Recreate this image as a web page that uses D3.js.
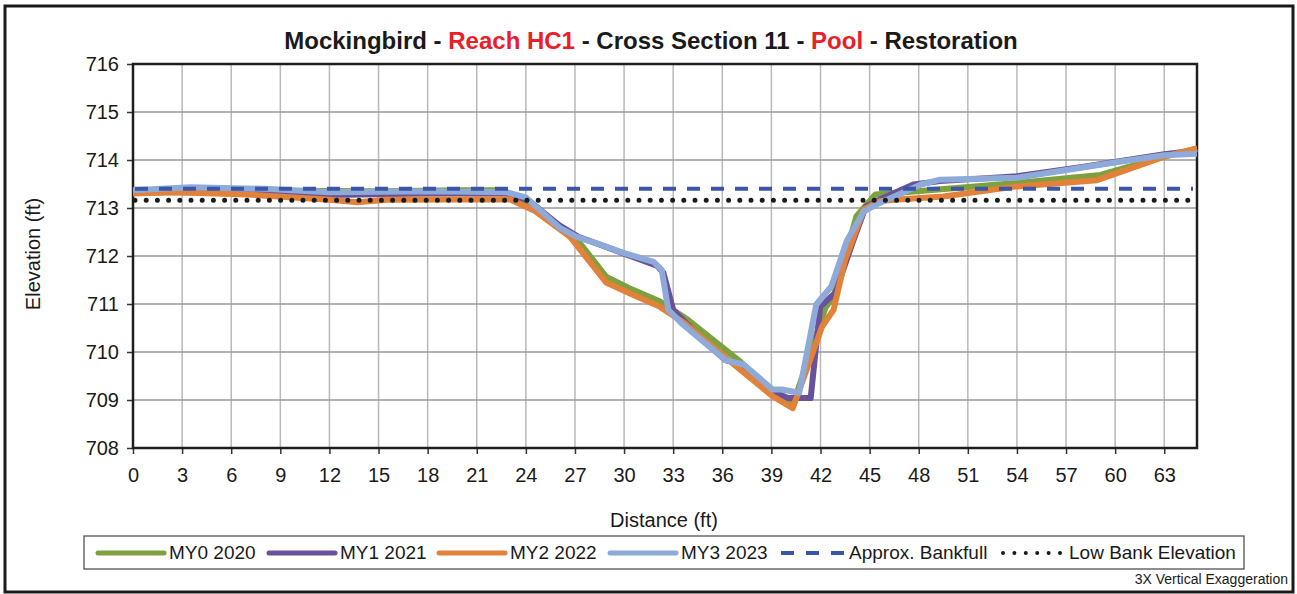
<!DOCTYPE html>
<html>
<head>
<meta charset="utf-8">
<script src="https://cdn.jsdelivr.net/npm/d3@7"></script>
<style>
  body { margin: 0; background: #ffffff; }
  text { font-family: "Liberation Sans", Arial, sans-serif; fill: #1a1a1a; }
</style>
</head>
<body>
<script>
// survey stations (ft) and elevations (ft) per monitoring year
const my0_sta = [0, 3, 9, 15, 20, 22.6, 24.2, 27.0, 28.9, 30.5, 32.2, 33.9, 37.1, 39.1, 40.35, 42.3, 42.8, 44.2, 45.35, 47.9, 54, 59.1, 63, 65];
const my0_elev = [713.36, 713.38, 713.36, 713.35, 713.37, 713.37, 713.08, 712.40, 711.57, 711.30, 711.05, 710.67, 709.80, 709.15, 708.94, 710.92, 711.16, 712.83, 713.28, 713.35, 713.52, 713.69, 714.07, 714.24];

const my1_sta = [0, 6, 12, 18, 22.8, 24.2, 26, 27.2, 30, 32.0, 32.4, 33.0, 34.5, 36.2, 37.3, 39.07, 40.0, 41.4, 41.98, 42.9, 43.95, 44.77, 45.58, 47.67, 49.3, 54, 58.1, 63, 65];
const my1_elev = [713.33, 713.33, 713.27, 713.30, 713.30, 713.15, 712.65, 712.40, 712.05, 711.80, 711.65, 710.88, 710.35, 709.83, 709.72, 709.18, 709.04, 709.04, 710.95, 711.23, 712.27, 713.03, 713.17, 713.49, 713.56, 713.66, 713.86, 714.12, 714.20];

const my2_sta = [0, 2.5, 7, 12, 13.7, 15.5, 23.0, 24.5, 26.7, 28.9, 30.5, 32.2, 33.7, 37.1, 39.07, 40.3, 42.1, 42.8, 43.5, 44.65, 45.58, 46.5, 49.5, 54, 58.9, 63, 65];
const my2_elev = [713.30, 713.33, 713.28, 713.17, 713.12, 713.17, 713.18, 712.95, 712.40, 711.45, 711.20, 710.94, 710.60, 709.63, 709.08, 708.83, 710.53, 710.88, 711.92, 712.97, 713.14, 713.17, 713.24, 713.45, 713.58, 714.07, 714.24];

const my3_sta = [0, 3.5, 8, 12, 18.2, 22.8, 24.0, 26.1, 27.1, 28.6, 30.0, 31.8, 32.3, 32.7, 33.5, 36.2, 37.3, 39.07, 39.65, 40.7, 41.74, 42.67, 43.6, 44.65, 45.58, 48.14, 49.3, 54, 60.16, 63, 65];
const my3_elev = [713.37, 713.43, 713.40, 713.33, 713.35, 713.33, 713.22, 712.58, 712.40, 712.23, 712.06, 711.88, 711.71, 710.88, 710.60, 709.83, 709.74, 709.22, 709.22, 709.15, 710.99, 711.37, 712.31, 712.93, 713.10, 713.49, 713.59, 713.63, 713.96, 714.10, 714.13];

const bankfull_elev = 713.40;
const low_bank_elev = 713.16;

const x_ticks = [0, 3, 6, 9, 12, 15, 18, 21, 24, 27, 30, 33, 36, 39, 42, 45, 48, 51, 54, 57, 60, 63];
const y_ticks = [708, 709, 710, 711, 712, 713, 714, 715, 716];

const series_names = ["MY0 2020", "MY1 2021", "MY2 2022", "MY3 2023"];
const series_colors = ["#7ea13f", "#6a529a", "#e2823a", "#8eaad8"];

function init() {
  const W = 1297, H = 594;
  const m = { left: 133, right: 1197, top: 64, bottom: 448 };

  const svg = d3.select("body").append("svg")
    .attr("width", W)
    .attr("height", H);

  // outer frame
  svg.append("rect")
    .attr("x", 5).attr("y", 6)
    .attr("width", 1288).attr("height", 586)
    .attr("fill", "#ffffff")
    .attr("stroke", "#1a1a1a")
    .attr("stroke-width", 3);

  const x = d3.scaleLinear().domain([0, 65]).range([m.left, m.right]);
  const y = d3.scaleLinear().domain([708, 716]).range([m.bottom, m.top]);

  // title
  const title = svg.append("text")
    .attr("x", 651).attr("y", 49)
    .attr("text-anchor", "middle")
    .style("font-size", "24px")
    .style("font-weight", "bold");
  const parts = [
    ["Mockingbird - ", "#1a1a1a"], ["Reach HC1", "#e8202a"],
    [" - Cross Section 11 - ", "#1a1a1a"], ["Pool", "#e8202a"],
    [" - Restoration", "#1a1a1a"]
  ];
  parts.forEach(p => title.append("tspan").text(p[0]).style("fill", p[1]));

  // gridlines
  svg.append("g")
    .selectAll("line")
    .data(x_ticks.slice(1))
    .join("line")
    .attr("x1", d => x(d)).attr("x2", d => x(d))
    .attr("y1", m.top).attr("y2", m.bottom)
    .attr("stroke", "#b9b9b9")
    .attr("stroke-width", 1.5);
  svg.append("g")
    .selectAll("line")
    .data(y_ticks.slice(1, -1))
    .join("line")
    .attr("x1", m.left).attr("x2", m.right)
    .attr("y1", d => y(d)).attr("y2", d => y(d))
    .attr("stroke", "#9a9a9a")
    .attr("stroke-width", 1.5);

  // axes
  const yAxis = svg.append("g")
    .attr("transform", `translate(${m.left},0)`)
    .call(d3.axisLeft(y).tickValues(y_ticks).tickSize(6).tickPadding(8).tickFormat(d3.format("d")));
  const xAxis = svg.append("g")
    .attr("transform", `translate(0,${m.bottom})`)
    .call(d3.axisBottom(x).tickValues(x_ticks).tickSize(6).tickPadding(14).tickFormat(d3.format("d")));
  [yAxis, xAxis].forEach(a => {
    a.select(".domain").remove();
    a.selectAll(".tick line").attr("stroke", "#333").attr("stroke-width", 1.5);
    a.selectAll(".tick text").style("font-size", "20px").attr("fill", "#1a1a1a")
      .style("font-family", "'Liberation Sans', Arial, sans-serif");
  });

  // plot area border
  svg.append("rect")
    .attr("x", m.left).attr("y", m.top)
    .attr("width", m.right - m.left).attr("height", m.bottom - m.top)
    .attr("fill", "none")
    .attr("stroke", "#1e1e1e")
    .attr("stroke-width", 2.5);

  // axis titles
  svg.append("text")
    .attr("transform", "translate(40,254) rotate(-90)")
    .attr("text-anchor", "middle")
    .style("font-size", "20px")
    .text("Elevation (ft)");
  svg.append("text")
    .attr("x", 664).attr("y", 527)
    .attr("text-anchor", "middle")
    .style("font-size", "20px")
    .text("Distance (ft)");

  // cross section lines
  const line = d3.line().x(d => x(d[0])).y(d => y(d[1]));
  const stas = [my0_sta, my1_sta, my2_sta, my3_sta];
  const elevs = [my0_elev, my1_elev, my2_elev, my3_elev];
  stas.forEach((s, i) => {
    svg.append("path")
      .datum(d3.zip(s, elevs[i]))
      .attr("d", line)
      .attr("fill", "none")
      .attr("stroke", series_colors[i])
      .attr("stroke-width", 6)
      .attr("stroke-linejoin", "round");
  });

  // bankfull + low bank
  svg.append("line")
    .attr("x1", x(0) + 2).attr("x2", x(65) - 4)
    .attr("y1", y(bankfull_elev)).attr("y2", y(bankfull_elev))
    .attr("stroke", "#3a56a8")
    .attr("stroke-width", 4)
    .attr("stroke-dasharray", "13 11");
  svg.append("line")
    .attr("x1", x(0) + 2).attr("x2", x(65))
    .attr("y1", y(low_bank_elev)).attr("y2", y(low_bank_elev))
    .attr("stroke", "#1a1a1a")
    .attr("stroke-width", 5)
    .attr("stroke-linecap", "round")
    .attr("stroke-dasharray", "0 11.2");

  // legend
  const lg = svg.append("g");
  lg.append("rect")
    .attr("x", 84).attr("y", 536)
    .attr("width", 1160).attr("height", 33)
    .attr("fill", "#ffffff")
    .attr("stroke", "#444")
    .attr("stroke-width", 1.2);
  const lgX = [98, 269, 439, 610];
  series_names.forEach((n, i) => {
    lg.append("line")
      .attr("x1", lgX[i]).attr("x2", lgX[i] + 66)
      .attr("y1", 553).attr("y2", 553)
      .attr("stroke", series_colors[i])
      .attr("stroke-width", 5)
      .attr("stroke-linecap", "round");
    lg.append("text")
      .attr("x", lgX[i] + 71).attr("y", 559)
      .style("font-size", "19px")
      .text(n);
  });
  lg.append("line")
    .attr("x1", 781).attr("x2", 845)
    .attr("y1", 553).attr("y2", 553)
    .attr("stroke", "#3a56a8")
    .attr("stroke-width", 4)
    .attr("stroke-dasharray", "13 12");
  lg.append("text")
    .attr("x", 849).attr("y", 559)
    .style("font-size", "19px")
    .text("Approx. Bankfull");
  lg.append("line")
    .attr("x1", 1003).attr("x2", 1060)
    .attr("y1", 553).attr("y2", 553)
    .attr("stroke", "#1a1a1a")
    .attr("stroke-width", 4)
    .attr("stroke-linecap", "round")
    .attr("stroke-dasharray", "0 11.4");
  lg.append("text")
    .attr("x", 1069).attr("y", 559)
    .style("font-size", "19px")
    .text("Low Bank Elevation");

  // note
  svg.append("text")
    .attr("x", 1288).attr("y", 584)
    .attr("text-anchor", "end")
    .style("font-size", "14px")
    .text("3X Vertical Exaggeration");
}

init();
</script>
</body>
</html>
